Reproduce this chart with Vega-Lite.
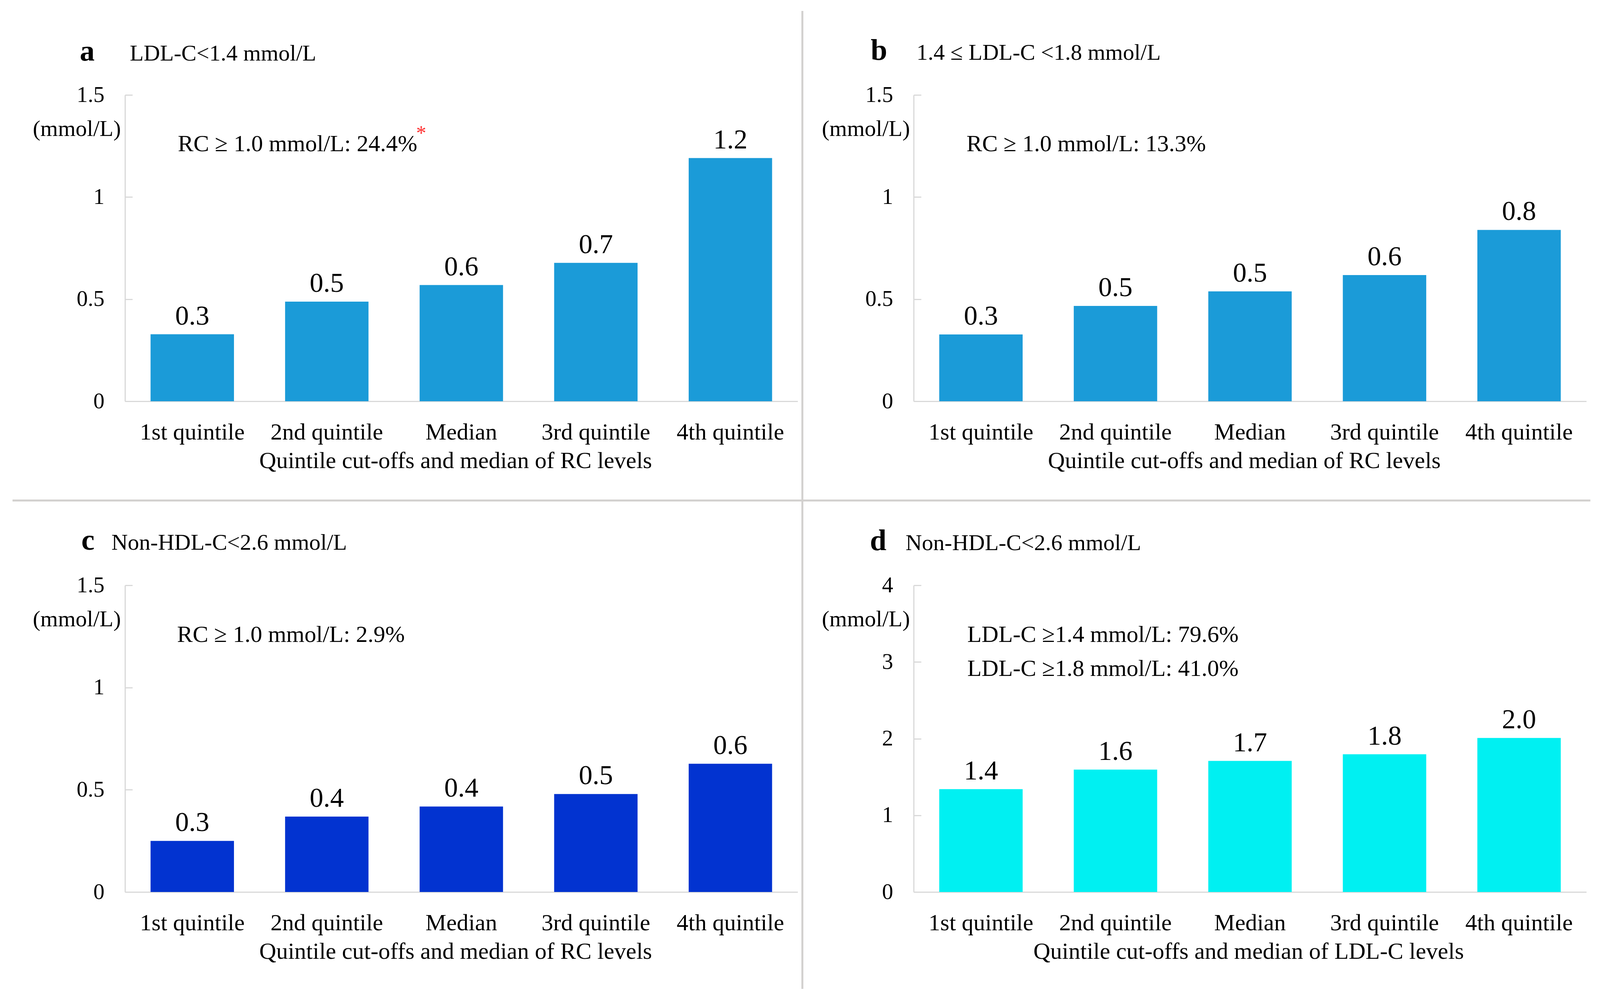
{
  "$schema": "https://vega.github.io/schema/vega-lite/v6.json",
  "padding": {"left": 29, "top": 25, "right": 23, "bottom": 28},
  "background": "white",
  "config": {
    "font": "Liberation Serif",
    "view": {"stroke": null},
    "text": {"color": "#000"},
    "axis": {"grid": false, "domainColor": "#d9d9d9", "tickColor": "#d9d9d9", "labelColor": "#000", "titleColor": "#000", "titleFontWeight": "normal", "labelLimit": 1000, "titleLimit": 3000}
  },
  "datasets": {
    "a": [
      {"group": "1st quintile", "value": 0.328, "label": "0.3"},
      {"group": "2nd quintile", "value": 0.488, "label": "0.5"},
      {"group": "Median", "value": 0.569, "label": "0.6"},
      {"group": "3rd quintile", "value": 0.678, "label": "0.7"},
      {"group": "4th quintile", "value": 1.191, "label": "1.2"}
    ],
    "b": [
      {"group": "1st quintile", "value": 0.327, "label": "0.3"},
      {"group": "2nd quintile", "value": 0.467, "label": "0.5"},
      {"group": "Median", "value": 0.538, "label": "0.5"},
      {"group": "3rd quintile", "value": 0.618, "label": "0.6"},
      {"group": "4th quintile", "value": 0.839, "label": "0.8"}
    ],
    "c": [
      {"group": "1st quintile", "value": 0.25, "label": "0.3"},
      {"group": "2nd quintile", "value": 0.369, "label": "0.4"},
      {"group": "Median", "value": 0.418, "label": "0.4"},
      {"group": "3rd quintile", "value": 0.479, "label": "0.5"},
      {"group": "4th quintile", "value": 0.627, "label": "0.6"}
    ],
    "d": [
      {"group": "1st quintile", "value": 1.342, "label": "1.4"},
      {"group": "2nd quintile", "value": 1.596, "label": "1.6"},
      {"group": "Median", "value": 1.709, "label": "1.7"},
      {"group": "3rd quintile", "value": 1.796, "label": "1.8"},
      {"group": "4th quintile", "value": 2.009, "label": "2.0"}
    ],
    "dividers": [
      {"kind": "horizontal", "px": -0.1672, "px2": 2.1785, "py": -0.486},
      {"kind": "vertical", "px": 1.007, "py": 1.9114, "py2": -2.8776}
    ]
  },
  "columns": 2,
  "spacing": {"row": 471, "column": 297},
  "bounds": "flush",
  "concat": [
    {
      "width": 1722, "height": 784,
      "resolve": {"scale": {"x": "independent", "y": "independent"}},
      "layer": [
        {
          "encoding": {
            "x": {"field": "group", "type": "nominal", "scale": {"domain": ["1st quintile", "2nd quintile", "Median", "3rd quintile", "4th quintile"], "paddingInner": 0.38, "paddingOuter": 0.19},
              "axis": {"title": "Quintile cut-offs and median of RC levels", "labelAngle": 0, "ticks": false, "labelFontSize": 60, "labelBaseline": "alphabetic", "labelPadding": 97, "titleFontSize": 60, "titleBaseline": "alphabetic", "titleAlign": "center", "titleX": 846, "titleY": 170, "domainWidth": 3}},
            "y": {"field": "value", "type": "quantitative", "scale": {"domain": [0, 1.5]},
              "axis": {"values": [0, 0.5, 1, 1.5], "format": "~g", "labelFontSize": 57, "labelBaseline": "middle", "labelPadding": 72, "tickSize": -19, "tickWidth": 3, "domainWidth": 3, "title": "(mmol/L)", "titleAngle": 0, "titleAlign": "right", "titleBaseline": "alphabetic", "titleX": -11, "titleY": 104, "titleFontSize": 58}}
          },
          "layer": [
            {"data": {"name": "a"}, "mark": {"type": "bar", "color": "#1B9BD8"}},
            {"data": {"name": "a"}, "mark": {"type": "text", "baseline": "alphabetic", "dy": -25, "fontSize": 70, "color": "#000"}, "encoding": {"text": {"field": "label"}}},
            {"data": {"values": [{"group": "1st quintile", "value": 1.668, "label": "a"}]}, "mark": {"type": "text", "baseline": "alphabetic", "align": "center", "dx": -269, "fontSize": 76, "fontWeight": "bold", "color": "#000"}, "encoding": {"text": {"field": "label"}}},
            {"data": {"values": [{"group": "1st quintile", "value": 1.668, "label": "LDL-C<1.4 mmol/L"}]}, "mark": {"type": "text", "baseline": "alphabetic", "align": "left", "dx": -160, "fontSize": 58, "color": "#000"}, "encoding": {"text": {"field": "label"}}},
            {"data": {"values": [{"group": "1st quintile", "value": 1.224, "label": "RC ≥ 1.0 mmol/L: 24.4%"}]}, "mark": {"type": "text", "baseline": "alphabetic", "align": "left", "dx": -37, "fontSize": 60, "color": "#000"}, "encoding": {"text": {"field": "label"}}},
            {"data": {"values": [{"group": "1st quintile", "value": 1.28, "label": "*"}]}, "mark": {"type": "text", "baseline": "alphabetic", "align": "center", "dx": 586, "fontSize": 52, "color": "#FF3333"}, "encoding": {"text": {"field": "label"}}}
          ]
        },
        {
          "data": {"name": "dividers"},
          "encoding": {
            "x": {"field": "px", "type": "quantitative", "scale": {"domain": [0, 1], "nice": false, "zero": false}, "axis": null},
            "y": {"field": "py", "type": "quantitative", "scale": {"domain": [0, 1.5], "nice": false}, "axis": null}
          },
          "layer": [
            {"transform": [{"filter": "datum.kind == 'horizontal'"}], "mark": {"type": "rule", "color": "#D2D0CE", "strokeWidth": 5}, "encoding": {"x2": {"field": "px2"}}},
            {"transform": [{"filter": "datum.kind == 'vertical'"}], "mark": {"type": "rule", "color": "#D2D0CE", "strokeWidth": 5}, "encoding": {"y2": {"field": "py2"}}}
          ]
        }
      ]
    },
    {
      "width": 1722, "height": 784,
      "encoding": {
        "x": {"field": "group", "type": "nominal", "scale": {"domain": ["1st quintile", "2nd quintile", "Median", "3rd quintile", "4th quintile"], "paddingInner": 0.38, "paddingOuter": 0.19},
          "axis": {"title": "Quintile cut-offs and median of RC levels", "labelAngle": 0, "ticks": false, "labelFontSize": 60, "labelBaseline": "alphabetic", "labelPadding": 97, "titleFontSize": 60, "titleBaseline": "alphabetic", "titleAlign": "center", "titleX": 846, "titleY": 170, "domainWidth": 3}},
        "y": {"field": "value", "type": "quantitative", "scale": {"domain": [0, 1.5]},
          "axis": {"values": [0, 0.5, 1, 1.5], "format": "~g", "labelFontSize": 57, "labelBaseline": "middle", "labelPadding": 72, "tickSize": -19, "tickWidth": 3, "domainWidth": 3, "title": "(mmol/L)", "titleAngle": 0, "titleAlign": "right", "titleBaseline": "alphabetic", "titleX": -10, "titleY": 104, "titleFontSize": 58}}
      },
      "layer": [
        {"data": {"name": "b"}, "mark": {"type": "bar", "color": "#1B9BD8"}},
        {"data": {"name": "b"}, "mark": {"type": "text", "baseline": "alphabetic", "dy": -25, "fontSize": 70, "color": "#000"}, "encoding": {"text": {"field": "label"}}},
        {"data": {"values": [{"group": "1st quintile", "value": 1.672, "label": "b"}]}, "mark": {"type": "text", "baseline": "alphabetic", "align": "center", "dx": -261, "fontSize": 76, "fontWeight": "bold", "color": "#000"}, "encoding": {"text": {"field": "label"}}},
        {"data": {"values": [{"group": "1st quintile", "value": 1.672, "label": "1.4 ≤ LDL-C <1.8 mmol/L"}]}, "mark": {"type": "text", "baseline": "alphabetic", "align": "left", "dx": -165, "fontSize": 58, "color": "#000"}, "encoding": {"text": {"field": "label"}}},
        {"data": {"values": [{"group": "1st quintile", "value": 1.224, "label": "RC ≥ 1.0 mmol/L: 13.3%"}]}, "mark": {"type": "text", "baseline": "alphabetic", "align": "left", "dx": -37, "fontSize": 60, "color": "#000"}, "encoding": {"text": {"field": "label"}}}
      ]
    },
    {
      "width": 1722, "height": 785,
      "encoding": {
        "x": {"field": "group", "type": "nominal", "scale": {"domain": ["1st quintile", "2nd quintile", "Median", "3rd quintile", "4th quintile"], "paddingInner": 0.38, "paddingOuter": 0.19},
          "axis": {"title": "Quintile cut-offs and median of RC levels", "labelAngle": 0, "ticks": false, "labelFontSize": 60, "labelBaseline": "alphabetic", "labelPadding": 97, "titleFontSize": 60, "titleBaseline": "alphabetic", "titleAlign": "center", "titleX": 846, "titleY": 170, "domainWidth": 3}},
        "y": {"field": "value", "type": "quantitative", "scale": {"domain": [0, 1.5]},
          "axis": {"values": [0, 0.5, 1, 1.5], "format": "~g", "labelFontSize": 57, "labelBaseline": "middle", "labelPadding": 72, "tickSize": -19, "tickWidth": 3, "domainWidth": 3, "title": "(mmol/L)", "titleAngle": 0, "titleAlign": "right", "titleBaseline": "alphabetic", "titleX": -11, "titleY": 104, "titleFontSize": 58}}
      },
      "layer": [
        {"data": {"name": "c"}, "mark": {"type": "bar", "color": "#0233D0"}},
        {"data": {"name": "c"}, "mark": {"type": "text", "baseline": "alphabetic", "dy": -25, "fontSize": 70, "color": "#000"}, "encoding": {"text": {"field": "label"}}},
        {"data": {"values": [{"group": "1st quintile", "value": 1.673, "label": "c"}]}, "mark": {"type": "text", "baseline": "alphabetic", "align": "center", "dx": -267, "fontSize": 76, "fontWeight": "bold", "color": "#000"}, "encoding": {"text": {"field": "label"}}},
        {"data": {"values": [{"group": "1st quintile", "value": 1.673, "label": "Non-HDL-C<2.6 mmol/L"}]}, "mark": {"type": "text", "baseline": "alphabetic", "align": "left", "dx": -207, "fontSize": 58, "color": "#000"}, "encoding": {"text": {"field": "label"}}},
        {"data": {"values": [{"group": "1st quintile", "value": 1.223, "label": "RC ≥ 1.0 mmol/L: 2.9%"}]}, "mark": {"type": "text", "baseline": "alphabetic", "align": "left", "dx": -39, "fontSize": 60, "color": "#000"}, "encoding": {"text": {"field": "label"}}}
      ]
    },
    {
      "width": 1722, "height": 785,
      "encoding": {
        "x": {"field": "group", "type": "nominal", "scale": {"domain": ["1st quintile", "2nd quintile", "Median", "3rd quintile", "4th quintile"], "paddingInner": 0.38, "paddingOuter": 0.19},
          "axis": {"title": "Quintile cut-offs and median of LDL-C levels", "labelAngle": 0, "ticks": false, "labelFontSize": 60, "labelBaseline": "alphabetic", "labelPadding": 97, "titleFontSize": 60, "titleBaseline": "alphabetic", "titleAlign": "center", "titleX": 857, "titleY": 170, "domainWidth": 3}},
        "y": {"field": "value", "type": "quantitative", "scale": {"domain": [0, 4]},
          "axis": {"values": [0, 1, 2, 3, 4], "format": "~g", "labelFontSize": 57, "labelBaseline": "middle", "labelPadding": 72, "tickSize": -19, "tickWidth": 3, "domainWidth": 3, "title": "(mmol/L)", "titleAngle": 0, "titleAlign": "right", "titleBaseline": "alphabetic", "titleX": -10, "titleY": 104, "titleFontSize": 58}}
      },
      "layer": [
        {"data": {"name": "d"}, "mark": {"type": "bar", "color": "#00F0F2"}},
        {"data": {"name": "d"}, "mark": {"type": "text", "baseline": "alphabetic", "dy": -25, "fontSize": 70, "color": "#000"}, "encoding": {"text": {"field": "label"}}},
        {"data": {"values": [{"group": "1st quintile", "value": 4.461, "label": "d"}]}, "mark": {"type": "text", "baseline": "alphabetic", "align": "center", "dx": -263, "fontSize": 76, "fontWeight": "bold", "color": "#000"}, "encoding": {"text": {"field": "label"}}},
        {"data": {"values": [{"group": "1st quintile", "value": 4.461, "label": "Non-HDL-C<2.6 mmol/L"}]}, "mark": {"type": "text", "baseline": "alphabetic", "align": "left", "dx": -193, "fontSize": 58, "color": "#000"}, "encoding": {"text": {"field": "label"}}},
        {"data": {"values": [{"group": "1st quintile", "value": 3.261, "label": "LDL-C ≥1.4 mmol/L: 79.6%"}, {"group": "1st quintile", "value": 2.818, "label": "LDL-C ≥1.8 mmol/L: 41.0%"}]}, "mark": {"type": "text", "baseline": "alphabetic", "align": "left", "dx": -35, "fontSize": 60, "color": "#000"}, "encoding": {"text": {"field": "label"}}}
      ]
    }
  ]
}
